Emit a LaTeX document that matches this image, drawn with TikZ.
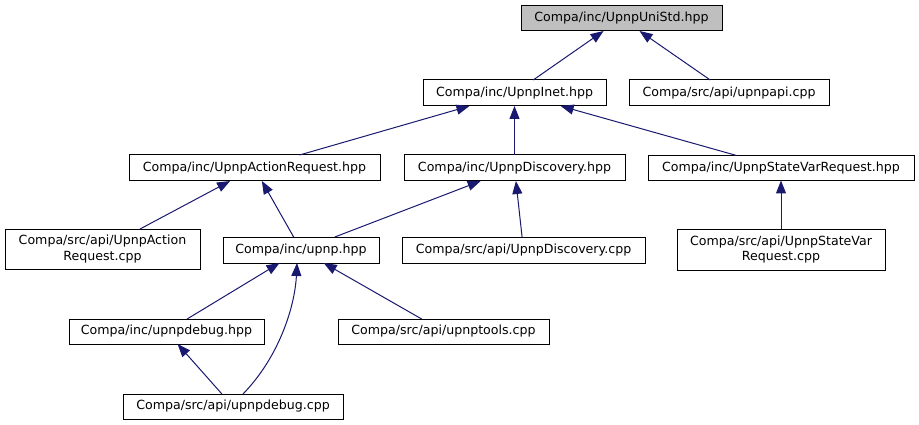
\documentclass[tikz,border=0pt]{standalone}
\usepackage{fontspec}
\setmainfont{DejaVu Sans}
\usetikzlibrary{arrows.meta,calc}
\definecolor{edgeblue}{HTML}{191970}
\definecolor{headgray}{HTML}{BFBFBF}
\begin{document}
\begin{tikzpicture}[x=1pt,y=-1pt,
  box/.style={draw=black,line width=1pt,inner sep=0pt,outer sep=0pt,align=center,
    font=\fontsize{12.6}{15.5}\selectfont,fill=white},
  dep/.style={draw=edgeblue,line width=1pt,-{Triangle[length=13pt,width=10pt]}}]
\useasboundingbox (0,0) rectangle (919,425);
\node[box,fill=headgray,minimum width=201,minimum height=25] (uni) at (621.5,18.5) {Compa/inc/UpnpUniStd.hpp};
\node[box,minimum width=183,minimum height=26] (inet) at (514.5,93) {Compa/inc/UpnpInet.hpp};
\node[box,minimum width=200,minimum height=26] (api) at (729,93) {Compa/src/api/upnpapi.cpp};
\node[box,minimum width=251,minimum height=26] (actreq) at (254.5,168) {Compa/inc/UpnpActionRequest.hpp};
\node[box,minimum width=221,minimum height=26] (disc) at (514.5,168) {Compa/inc/UpnpDiscovery.hpp};
\node[box,minimum width=266,minimum height=25] (svreq) at (781,168) {Compa/inc/UpnpStateVarRequest.hpp};
\node[box,minimum width=195,minimum height=40] (actcpp) at (102.5,249) {Compa/src/api/UpnpAction\\Request.cpp};
\node[box,minimum width=156,minimum height=26] (upnp) at (301,250) {Compa/inc/upnp.hpp};
\node[box,minimum width=243,minimum height=26] (disccpp) at (523.5,250) {Compa/src/api/UpnpDiscovery.cpp};
\node[box,minimum width=208,minimum height=41] (svcpp) at (781,249.5) {Compa/src/api/UpnpStateVar\\Request.cpp};
\node[box,minimum width=195,minimum height=25] (dbghpp) at (166.5,331.5) {Compa/inc/upnpdebug.hpp};
\node[box,minimum width=211,minimum height=25] (tools) at (443.5,331.5) {Compa/src/api/upnptools.cpp};
\node[box,minimum width=220,minimum height=25] (dbgcpp) at (233,406.5) {Compa/src/api/upnpdebug.cpp};

\draw[dep] (inet) -- (uni);
\draw[dep] (api) -- (uni);
\draw[dep] (actreq) -- (inet);
\draw[dep] (disc.north) -- (inet.south);
\draw[dep] (svreq) -- (inet);
\draw[dep] (svcpp.north) -- (svreq.south);
\draw[dep] (actcpp) -- (actreq);
\draw[dep] (upnp) -- (actreq);
\draw[dep] (upnp) -- (disc);
\draw[dep] (disccpp) -- (disc);
\draw[dep] (dbghpp) -- (upnp);
\draw[dep] (tools) -- (upnp);
\draw[dep] (dbgcpp) -- (dbghpp);
\draw[dep] ($(dbgcpp.north)+(10,0)$) .. controls ($(dbgcpp.north)+(47,-38)$) and ($(upnp.south)+(-6,42)$) .. ($(upnp.south)+(-4,0)$);
\end{tikzpicture}
\end{document}
